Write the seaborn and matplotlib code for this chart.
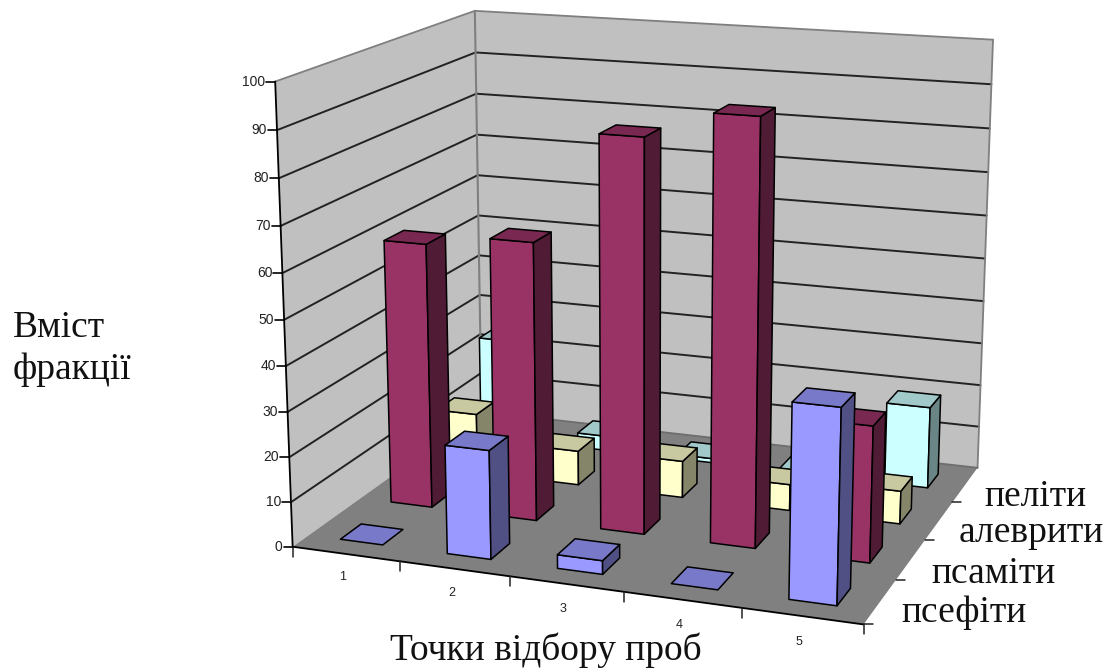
import numpy as np
import pandas as pd
import matplotlib
matplotlib.use("Agg")
import matplotlib.pyplot as plt
import seaborn as sns

# Sampling points and sediment fractions (front to back along the depth axis)
points = ["1", "2", "3", "4", "5"]
fractions = ["псефіти", "псаміти", "алеврити", "пеліти"]
psefity = [0, 24, 3, 0, 41.5]
psamity = [60, 62.5, 87, 93, 30]
alevryty = [14, 8, 8.5, 6, 7.5]
pelity = [24.5, 3.5, 1, 0.5, 19]
value_ticks = [0, 10, 20, 30, 40, 50, 60, 70, 80, 90, 100]

series_colors = ["#9999FF", "#993366", "#FFFFCC", "#CCFFFF"]
wall_color = "#C0C0C0"
floor_color = "#808080"

table = pd.DataFrame({"псефіти": psefity, "псаміти": psamity,
                      "алеврити": alevryty, "пеліти": pelity}, index=points)

sns.set_theme(style="white")
plt.rcParams["font.family"] = ["Liberation Serif", "DejaVu Serif"]

fig = plt.figure(figsize=(11.13, 6.69), dpi=100)
ax = fig.add_axes([0, 0, 1, 1])
ax.set_xlim(0, 1113)
ax.set_ylim(669, 0)
ax.axis("off")

# Camera: a projective 3x4 matrix solved from where the box corners land on the canvas
nx, ny, nz = len(points), len(fractions), 100.0
box_world = np.array([[0, 0, 0], [nx, 0, 0], [nx, ny, 0], [0, ny, 0],
                      [0, 0, nz], [0, ny, nz], [nx, ny, nz]], float)
box_canvas = np.array([[293.3, 546.7], [863, 625], [978, 467], [481, 412],
                       [275, 81], [475, 11], [993, 40]], float)
rows = []
for (X, Y, Z), (u, v) in zip(box_world, box_canvas):
    rows.append([X, Y, Z, 1, 0, 0, 0, 0, -u * X, -u * Y, -u * Z, -u])
    rows.append([0, 0, 0, 0, X, Y, Z, 1, -v * X, -v * Y, -v * Z, -v])
camera = np.linalg.svd(np.array(rows))[2][-1].reshape(3, 4)


def project(x, y, z):
    h = camera @ np.array([x, y, z, 1.0])
    return h[0] / h[2], h[1] / h[2]


def face(corners, color, edge="none", lw=0.0, zorder=1):
    pts = [project(*c) for c in corners]
    ax.fill(*zip(*pts), facecolor=color, edgecolor=edge, linewidth=lw,
            joinstyle="round", zorder=zorder)


def segment(a, b, color="black", lw=1.2, zorder=2, **kw):
    p, q = project(*a), project(*b)
    ax.plot([p[0], q[0]], [p[1], q[1]], color=color, lw=lw, zorder=zorder,
            solid_capstyle="round", **kw)


def tick(anchor, dx, dy, color="black", lw=1.2):
    # Short tick mark with a fixed on-screen direction
    p = project(*anchor)
    ax.plot([p[0], p[0] + dx], [p[1], p[1] + dy], color=color, lw=lw, zorder=2)


# Walls and floor
face([(0, 0, 0), (0, ny, 0), (0, ny, nz), (0, 0, nz)], wall_color)
face([(0, ny, 0), (nx, ny, 0), (nx, ny, nz), (0, ny, nz)], wall_color)
face([(0, 0, 0), (nx, 0, 0), (nx, ny, 0), (0, ny, 0)], floor_color)

# Gridlines across both walls
for v in value_ticks[1:-1]:
    segment((0, 0, v), (0, ny, v), color="#222222", lw=1.4)
    segment((0, ny, v), (nx, ny, v), color="#222222", lw=1.4)

# Wall outlines
grey = "#7f7f7f"
segment((0, 0, nz), (0, ny, nz), color=grey, lw=1.3)
segment((0, ny, nz), (nx, ny, nz), color=grey, lw=1.3)
segment((0, ny, 0), (0, ny, nz), color=grey, lw=1.5)
segment((nx, ny, 0), (nx, ny, nz), color=grey, lw=1.3)
segment((0, ny, 0), (nx, ny, 0), color="#6e6e6e", lw=1.3)

# Axis lines and tick marks
segment((0, 0, 0), (0, 0, nz), lw=1.3)
segment((0, 0, 0), (nx, 0, 0), lw=1.3)
for i in range(nx + 1):
    tick((i, 0, 0), 0, 10, color="#222222", lw=1.1)
for v in value_ticks:
    tick((0, 0, v), -9, 0)
    px, py = project(0, 0, v)
    ax.text(px - 10, py, str(v), ha="right", va="center", fontsize=10,
            family="Liberation Sans", color="#222222")
for j in range(ny):
    tick((nx, j, 0), 9, 0, color="#222222", lw=1.1)

for i, name in enumerate(points):
    px, py = project(i + 0.68, -0.52, 0)
    ax.text(px + (2 - i) * 3, py - 1, name, ha="center", va="center", fontsize=9,
            family="Liberation Sans", color="#222222")

# Bars: rows from back to front, left to right within a row
bar_width = 0.4
low = (1 - bar_width) / 2
zo = 10
for j in range(ny - 1, -1, -1):
    base = np.array(matplotlib.colors.to_rgb(series_colors[j]))
    for i in range(nx):
        h = table.iloc[i, j]
        x0, x1 = i + low, i + low + bar_width
        y0, y1 = j + low, j + low + bar_width
        if h > 0:
            face([(x0, y0, 0), (x1, y0, 0), (x1, y0, h), (x0, y0, h)], base,
                 edge="black", lw=1.1, zorder=zo)
            face([(x1, y0, 0), (x1, y1, 0), (x1, y1, h), (x1, y0, h)], base * 0.52,
                 edge="black", lw=1.1, zorder=zo)
        face([(x0, y0, h), (x1, y0, h), (x1, y1, h), (x0, y1, h)], base * 0.79,
             edge="black", lw=1.1, zorder=zo)
        zo += 1

# Text around the plot
big = 27
ax.text(13, 328, "Вміст", fontsize=big, ha="left", va="center", color="#111111")
ax.text(13, 370, "фракції", fontsize=big, ha="left", va="center", color="#111111")
ax.text(390, 650, "Точки відбору проб", fontsize=big, ha="left", va="center", color="#111111")
for label, lx, ly in zip(fractions, [901, 931, 959, 984], [613, 574, 533, 497]):
    ax.text(lx, ly, label, fontsize=big, ha="left", va="center", color="#111111")

fig.savefig("out.png", dpi=100, facecolor="white")
